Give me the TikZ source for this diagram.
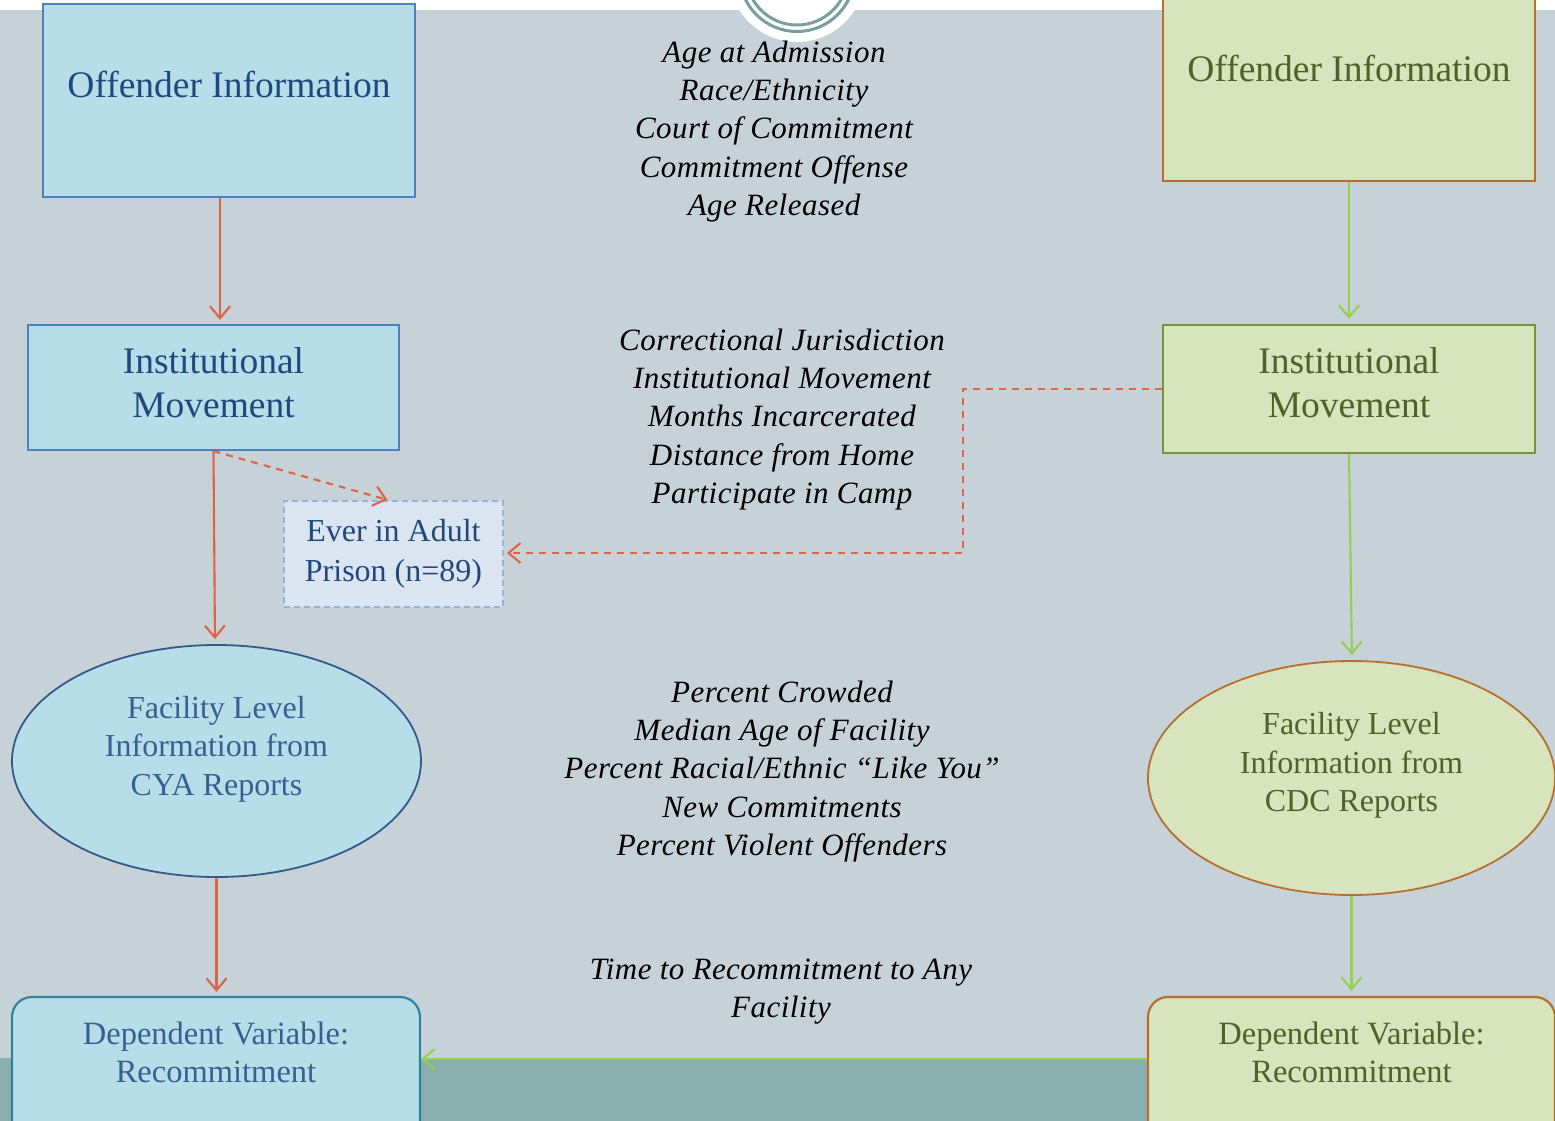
\documentclass[tikz,border=0pt]{standalone}
\usepackage{fontspec}
\setmainfont{Liberation Serif}
\usetikzlibrary{shapes.geometric,arrows.meta,calc}
\definecolor{bgc}{HTML}{C6D1D8}
\definecolor{bandc}{HTML}{8AADAE}
\definecolor{ringc}{HTML}{7A9E9E}
\definecolor{bfill}{HTML}{B7DDE8}
\definecolor{bborder}{HTML}{4F81BD}
\definecolor{btext}{HTML}{1F497D}
\definecolor{eborder}{HTML}{34598A}
\definecolor{etext}{HTML}{376092}
\definecolor{dborder}{HTML}{31849B}
\definecolor{gfill}{HTML}{D7E4BD}
\definecolor{oborder}{HTML}{B5702F}
\definecolor{gborder}{HTML}{77933C}
\definecolor{gtext}{HTML}{4F6228}
\definecolor{redc}{HTML}{DC6546}
\definecolor{greenc}{HTML}{92D050}
\definecolor{efill}{HTML}{DBE5F1}
\definecolor{eborderd}{HTML}{95B3D7}
\tikzset{
  boxb/.style={draw=bborder, fill=bfill, line width=2.2pt, inner sep=0pt},
  boxg/.style={draw=oborder, fill=gfill, line width=2.2pt, inner sep=0pt},
  boxgg/.style={draw=gborder, fill=gfill, line width=2.2pt, inner sep=0pt},
  bigtxt/.style={font=\fontsize{37.5}{44}\selectfont, align=center, inner sep=0pt},
  midtxt/.style={font=\fontsize{32}{38.5}\selectfont, align=center, inner sep=0pt},
  deptxt/.style={font=\fontsize{32.5}{38}\selectfont, align=center, inner sep=0pt},
  ittxt/.style={font=\fontsize{31}{38.3}\selectfont\itshape\addfontfeature{LetterSpace=1.5}, align=center, inner sep=0pt, text=black},
  redarr/.style={draw=redc, line width=2.1pt, -{Straight Barb[length=12pt,width=20pt,line width=2.1pt]}},
  grnarr/.style={draw=greenc, line width=2.1pt, -{Straight Barb[length=12pt,width=20pt,line width=2.1pt]}},
  reddash/.style={redarr, dash pattern=on 7pt off 6pt},
}
\begin{document}
\begin{tikzpicture}[x=1pt,y=-1pt]
\useasboundingbox (0,0) rectangle (1555,1121);
\clip (0,0) rectangle (1555,1121);
\fill[white] (0,0) rectangle (1555,1121);
\fill[bgc] (0,10) rectangle (1555,1121);
\fill[bandc] (0,1058) rectangle (1555,1121);
% top emblem
\fill[white] (797,-26) circle (68pt);
\draw[ringc, line width=3pt] (797,-26) circle (57.5pt);
\draw[ringc, line width=3pt] (797,-26) circle (51pt);

% left column
\node[boxb, minimum width=372pt, minimum height=193pt] (lo) at (229,100.5) {};
\node[bigtxt, text=btext] (lot) at (229,84) {Offender Information};
\node[boxb, minimum width=371pt, minimum height=125pt] (li) at (213.5,387.5) {};
\node[bigtxt, text=btext] (lit) at (213.5,382.5) {Institutional\\Movement};
\node[draw=eborderd, fill=efill, dash pattern=on 6pt off 4pt, line width=1.8pt, minimum width=219pt, minimum height=106pt, inner sep=0pt] (ev) at (393.5,554) {};
\node[font=\fontsize{32}{40}\selectfont, align=center, inner sep=0pt, text=btext] (evt) at (393.5,554) {Ever in Adult\\Prison (n=89)};
\node[ellipse, draw=eborder, fill=bfill, line width=1.8pt, minimum width=409pt, minimum height=232pt, inner sep=0pt] (le) at (216.5,761) {};
\node[midtxt, text=etext] (let) at (216.5,749) {Facility Level\\Information from\\CYA Reports};
\node[draw=dborder, fill=bfill, line width=2.2pt, rounded corners=20pt, minimum width=408pt, minimum height=160pt, inner sep=0pt] (ld) at (216,1077) {};
\node[deptxt, text=etext] (ldt) at (216,1052) {Dependent Variable:\\Recommitment};

% right column
\node[boxg, minimum width=372pt, minimum height=200pt] (ro) at (1349,81) {};
\node[bigtxt, text=gtext] (rot) at (1349,68) {Offender Information};
\node[boxgg, minimum width=372pt, minimum height=128pt] (ri) at (1349,389) {};
\node[bigtxt, text=gtext] (rit) at (1349,382.5) {Institutional\\Movement};
\node[ellipse, draw=oborder, fill=gfill, line width=1.8pt, minimum width=407pt, minimum height=234pt, inner sep=0pt] (re) at (1351.5,778) {};
\node[midtxt, text=gtext] (ret) at (1351.5,765.5) {Facility Level\\Information from\\CDC Reports};
\node[draw=oborder, fill=gfill, line width=2.2pt, rounded corners=20pt, minimum width=407pt, minimum height=160pt, inner sep=0pt] (rd) at (1351.5,1077) {};
\node[deptxt, text=gtext] (rdt) at (1351.5,1052) {Dependent Variable:\\Recommitment};

% middle italic lists
\node[ittxt] (m1) at (774,131.5) {Age at Admission\\Race/Ethnicity\\Court of Commitment\\Commitment Offense\\Age Released};
\node[ittxt] (m2) at (782,419.5) {Correctional Jurisdiction\\Institutional Movement\\Months Incarcerated\\Distance from Home\\Participate in Camp};
\node[ittxt] (m3) at (782,771.5) {Percent Crowded\\Median Age of Facility\\Percent Racial/Ethnic “Like You”\\New Commitments\\Percent Violent Offenders};
\node[ittxt] (m4) at (781,991.5) {Time to Recommitment to Any\\Facility};

% connectors left
\draw[redarr, shorten >=4pt] ([xshift=-9pt]lo.south) -- ([xshift=-9pt]lo.south |- li.north);
\draw[redarr, shorten >=5pt] (li.south) -- ([xshift=1.5pt]li.south |- le.north);
\draw[reddash, shorten >=1pt] (li.south) -- ([xshift=-5pt]ev.north);
\draw[redarr, shorten >=4pt] (le.south) -- (le.south |- ld.north);
\coordinate (bend1) at (963,389);
\coordinate (bend2) at (963,553);
\draw[reddash, shorten >=3pt] (ri.west) -- (bend1) -- (bend2) -- (bend2 -| ev.east);

% connectors right
\draw[grnarr, shorten >=5pt] (ro.south) -- (ro.south |- ri.north);
\draw[grnarr, shorten >=5pt] (ri.south) -- ([xshift=3pt]ri.south |- re.north);
\draw[grnarr, shorten >=5pt] (re.south) -- (re.south |- rd.north);
\draw[grnarr] (rd.west |- 0,1059) -- (ld.east |- 0,1059);
\end{tikzpicture}
\end{document}
